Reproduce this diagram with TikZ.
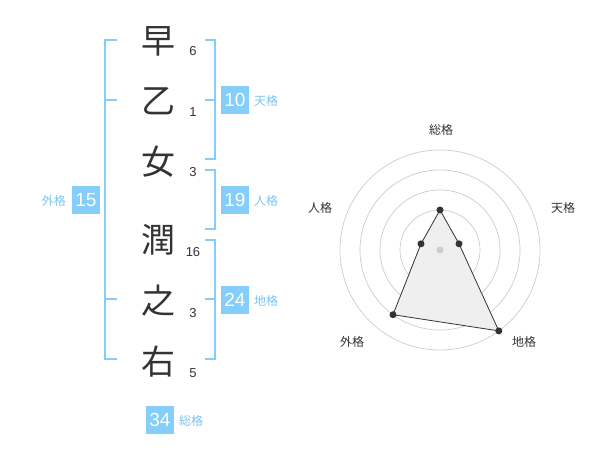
\documentclass[tikz,border=0pt]{standalone}
\usepackage{fontspec}
\usetikzlibrary{calc}
\setmainfont{Liberation Sans}
\newfontfamily\cjk{Noto Sans CJK JP}
\definecolor{blu}{HTML}{85CDFA}
\definecolor{blut}{HTML}{7CC4F2}
\definecolor{ink}{HTML}{333333}
\definecolor{ringc}{HTML}{CCCCCC}
\definecolor{polyfill}{HTML}{EFEFEF}
\begin{document}
\begin{tikzpicture}[x=1pt,y=-1pt,
  kanji/.style={font=\cjk\fontsize{34}{34}\selectfont, text=ink, inner sep=0},
  num/.style={font=\fontsize{13}{13}\selectfont, text=ink, inner sep=0},
  box/.style={fill=blu, minimum size=28, inner sep=0, text=white, font=\fontsize{19}{19}\selectfont},
  lab/.style={text=blut, font=\cjk\fontsize{12}{12}\selectfont, inner sep=0},
  brk/.style={draw=blu, line width=2},
  ring/.style={draw=ringc, line width=0.7},
  rlab/.style={font=\cjk\fontsize{12}{12}\selectfont, text=ink, inner sep=0},
  dot/.style={circle, fill=ink, inner sep=0, minimum size=7}]
\useasboundingbox (0,0) rectangle (600,470);
% characters
\node[kanji] (c1) at (158,41) {早};
\node[kanji] (c2) at (158,101) {乙};
\node[kanji] (c3) at (158,162) {女};
\node[kanji] (c4) at (158,240) {潤};
\node[kanji] (c5) at (158,301) {之};
\node[kanji] (c6) at (158,362) {右};
% stroke counts
\node[num] (n1) at (193,51) {6};
\node[num] (n2) at (193,112) {1};
\node[num] (n3) at (193,172) {3};
\node[num] (n4) at (193,252) {16};
\node[num] (n5) at (193,313) {3};
\node[num] (n6) at (193,373) {5};
% brackets
\draw[brk] (117,40) -- (105,40) -- (105,359) -- (117,359);
\draw[brk] (105,100) -- (117,100);
\draw[brk] (105,299) -- (117,299);
\draw[brk] (205,40) -- (215,40) -- (215,159) -- (205,159);
\draw[brk] (205,100) -- (215,100);
\draw[brk] (205,170) -- (215,170) -- (215,229) -- (205,229);
\draw[brk] (205,240) -- (215,240) -- (215,359) -- (205,359);
\draw[brk] (205,299) -- (215,299);
% boxes and labels
\node[box] (b10) at (235,100) {10};
\node[lab, anchor=west] (l10) at (254,101) {天格};
\node[box] (b19) at (235,200) {19};
\node[lab, anchor=west] (l19) at (254,201) {人格};
\node[box] (b24) at (235,300) {24};
\node[lab, anchor=west] (l24) at (254,301) {地格};
\node[box] (b15) at (86,200) {15};
\node[lab, anchor=east] (l15) at (66,201) {外格};
\node[box] (b34) at (160,420) {34};
\node[lab, anchor=west] (l34) at (179,421) {総格};
% radar
\coordinate (o) at (440,250);
\foreach \r in {20,40,60,80,100} \draw[ring] (o) circle[radius=\r];
\coordinate (p1) at ($(o)+(0,-40)$);
\coordinate (p2) at ($(o)+(19.0,-6.2)$);
\coordinate (p3) at ($(o)+(58.8,80.9)$);
\coordinate (p4) at ($(o)+(-47.0,64.7)$);
\coordinate (p5) at ($(o)+(-19.0,-6.2)$);
\filldraw[fill=polyfill, draw=ink, line width=0.8] (p1) -- (p2) -- (p3) -- (p4) -- (p5) -- cycle;
\fill[ringc] (o) circle[radius=3.5];
\foreach \p in {p1,p2,p3,p4,p5} \node[dot] at (\p) {};
\node[rlab] (r1) at (441,130) {総格};
\node[rlab] (r2) at (563,208) {天格};
\node[rlab] (r3) at (524,342) {地格};
\node[rlab] (r4) at (352,342) {外格};
\node[rlab] (r5) at (320,208) {人格};
\end{tikzpicture}
\end{document}
